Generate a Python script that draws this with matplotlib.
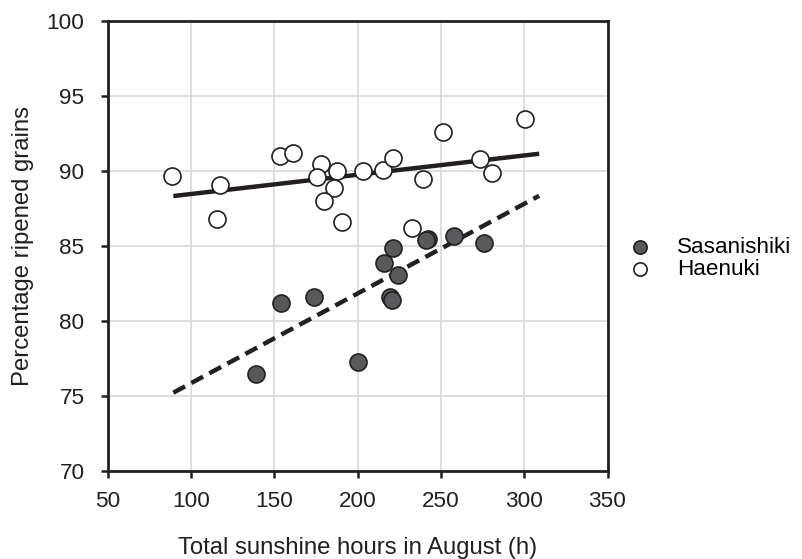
import matplotlib
matplotlib.use("Agg")
import matplotlib.pyplot as plt
import numpy as np

plt.rcParams['font.family'] = ['Liberation Sans', 'DejaVu Sans']

# Sasanishiki (filled)
sasa_x = [139, 154, 174, 200, 216, 221.5, 224, 219.5, 220.5, 242, 241, 258, 276]
sasa_y = [76.5, 81.2, 81.6, 77.3, 83.9, 84.9, 83.1, 81.6, 81.4, 85.5, 85.4, 85.7, 85.2]

# Haenuki (open)
hae_x = [88.5, 117.5, 115.5, 153.7, 161, 178, 175.5, 187.5, 186, 180, 190.5,
         203, 215, 221, 239.5, 251, 273.5, 280.5, 300.5, 232.5]
hae_y = [89.7, 89.1, 86.8, 91.0, 91.2, 90.5, 89.6, 90.0, 88.9, 88.0, 86.6,
         90.0, 90.1, 90.9, 89.5, 92.6, 90.8, 89.9, 93.5, 86.2]

# trend lines
trend_x = [89.5, 309]
hae_trend = [88.33, 91.15]
sasa_trend = [75.22, 88.35]

xticks = [50, 100, 150, 200, 250, 300, 350]
yticks = [70, 75, 80, 85, 90, 95, 100]

dark = '#231f20'
fill = '#58595b'
fs = 16.2
fs_lab = 17.2

fig = plt.figure(figsize=(8.02, 5.59), dpi=100)
ax = fig.add_axes([107.5 / 802, 1 - 471 / 559, 500 / 802, 450 / 559])

ax.grid(True, color='#d9d9d9', lw=1.2, zorder=0)
ax.set_axisbelow(True)

ax.plot(trend_x, hae_trend, color=dark, lw=3.2, solid_capstyle='butt', zorder=2)
ax.plot(trend_x, sasa_trend, color=dark, lw=3.2, dashes=(3, 1.6),
        dash_capstyle='butt', zorder=2)

ax.scatter(sasa_x, sasa_y, s=150, c=fill, edgecolors=dark, linewidths=1.2,
           zorder=3, label='Sasanishiki')
ax.scatter(hae_x, hae_y, s=150, c='white', edgecolors=dark, linewidths=1.2,
           zorder=3, label='Haenuki')

ax.set_xlim(50, 350)
ax.set_ylim(70, 100)
ax.set_xticks(xticks)
ax.set_yticks(yticks)

for sp in ax.spines.values():
    sp.set_color(dark)
    sp.set_linewidth(2.0)

ax.tick_params(axis='both', direction='out', length=5, width=1.8, color=dark,
               labelsize=fs, labelcolor=dark)
ax.tick_params(axis='x', pad=9.5)
ax.tick_params(axis='y', pad=11.5)

ax.set_xlabel('Total sunshine hours in August (h)', fontsize=fs_lab,
              color=dark, labelpad=18)
ax.set_ylabel('Percentage ripened grains', fontsize=fs_lab, color=dark,
              labelpad=9)

fig.legend(loc='center left', bbox_to_anchor=(629 / 802, 1 - 258.5 / 559),
           frameon=False, fontsize=fs, handlelength=1.0, handletextpad=1.15,
           borderpad=0, borderaxespad=0, labelspacing=0.05, markerscale=0.78)

fig.savefig('out.png', dpi=100)
